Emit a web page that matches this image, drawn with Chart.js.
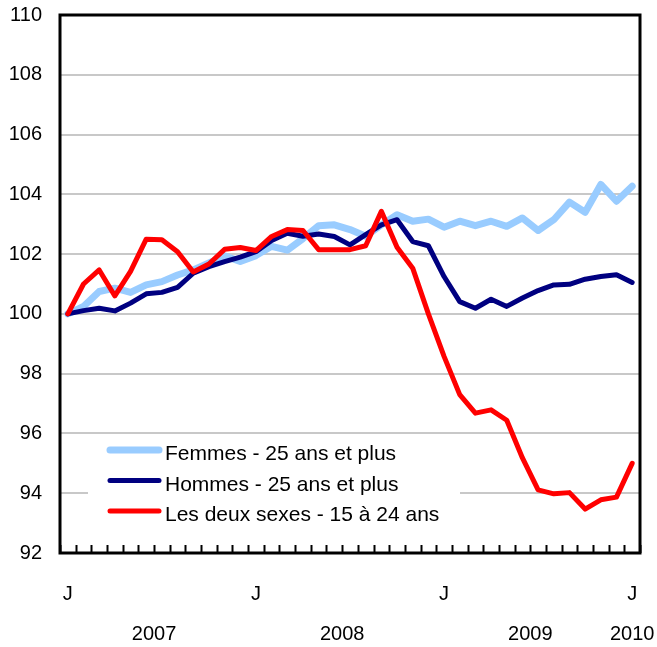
<!DOCTYPE html>
<html>
<head>
<meta charset="utf-8">
<script src="https://cdn.jsdelivr.net/npm/chart.js@4.4.1/dist/chart.umd.min.js"></script>
<style>
  body { margin: 0; background: #fff; }
  #wrap { width: 657px; height: 647px; position: relative; }
</style>
</head>
<body>
<div id="wrap"><canvas id="chart"></canvas></div>
<script>
// monthly index, January 2007 = 100
const years = [2007, 2008, 2009, 2010];
const xTickLabels = [
  'J','','','','','','','','','','','',
  'J','','','','','','','','','','','',
  'J','','','','','','','','','','','',
  'J'
];
const yearLabels = ['2007', '2008', '2009', '2010'];
const yearLabelAt = [5.5, 17.5, 29.5, 36]; // in category units
const yTicks = [92, 94, 96, 98, 100, 102, 104, 106, 108, 110];

const femmes = [
  100, 100.25, 100.75, 100.86, 100.72, 100.97, 101.08, 101.3, 101.47, 101.7, 101.94, 101.75,
  101.95, 102.26, 102.13, 102.52, 102.95, 102.98, 102.82, 102.6, 102.98, 103.32, 103.1, 103.17,
  102.9, 103.1, 102.95, 103.1, 102.93, 103.21, 102.79, 103.15, 103.74, 103.4, 104.33, 103.77,
  104.27
];
const hommes = [
  100, 100.11, 100.19, 100.1, 100.36, 100.67, 100.72, 100.89, 101.36, 101.58, 101.75, 101.9,
  102.08, 102.46, 102.7, 102.6, 102.67, 102.59, 102.31, 102.65, 102.98, 103.15, 102.42, 102.28,
  101.25, 100.41, 100.19, 100.49, 100.25, 100.53, 100.78, 100.97, 100.99, 101.16, 101.25, 101.31,
  101.05
];
const jeunes = [
  100, 101.0, 101.47, 100.6, 101.42, 102.5, 102.48, 102.08, 101.4, 101.67, 102.16, 102.22,
  102.12, 102.59, 102.82, 102.79, 102.15, 102.15, 102.15, 102.28, 103.43, 102.23, 101.53, 100.0,
  98.58, 97.3, 96.68, 96.79, 96.44, 95.18, 94.11, 93.98, 94.02, 93.47, 93.78, 93.87,
  95.0
];
const seriesNames = [
  'Femmes - 25 ans et plus',
  'Hommes - 25 ans et plus',
  'Les deux sexes - 15 \u00e0 24 ans'
];

const categories = [];
years.forEach(function (y) {
  for (let m = 1; m <= 12; m++) {
    if (categories.length < xTickLabels.length) categories.push(y + '-' + m);
  }
});

const FONT = '"Liberation Sans", Arial, Helvetica, sans-serif';

// box, inner ticks, year row and the legend drawn inside the plot
const decorations = {
  id: 'decorations',
  beforeDatasetsDraw(chart) {
    const ctx = chart.ctx;
    const a = chart.chartArea;
    // legend background hides the grid behind it
    ctx.save();
    ctx.fillStyle = '#fff';
    ctx.fillRect(a.left + 28, a.top + 422, 372, 93);
    ctx.restore();
  },
  afterDatasetsDraw(chart) {
    const ctx = chart.ctx;
    const a = chart.chartArea;
    const xs = chart.scales.x;
    const n = chart.data.labels.length;
    const step = (a.right - a.left) / n;

    ctx.save();
    // minor ticks at month boundaries, pointing up
    ctx.strokeStyle = '#000';
    ctx.lineWidth = 2;
    ctx.beginPath();
    for (let i = 0; i <= n; i++) {
      const x = Math.round(a.left + i * step) + 0.5;
      ctx.moveTo(x, a.bottom);
      ctx.lineTo(x, a.bottom - 8);
    }
    ctx.stroke();

    // frame
    ctx.lineWidth = 3;
    ctx.strokeRect(a.left, a.top, a.right - a.left, a.bottom - a.top);

    // year labels
    ctx.fillStyle = '#000';
    ctx.font = '20px ' + FONT;
    ctx.textAlign = 'center';
    ctx.textBaseline = 'alphabetic';
    yearLabels.forEach(function (lbl, i) {
      const pos = yearLabelAt[i];
      const base = Math.floor(pos);
      const x = xs.getPixelForValue(base) + (pos - base) * step;
      ctx.fillText(lbl, x, a.bottom + 87);
    });

    // legend
    ctx.textAlign = 'left';
    ctx.font = '21px ' + FONT;
    chart.data.datasets.forEach(function (ds, i) {
      const baseY = a.top + 445 + i * 30.5;
      ctx.strokeStyle = ds.borderColor;
      ctx.lineWidth = ds.borderWidth;
      ctx.lineCap = 'round';
      ctx.beginPath();
      ctx.moveTo(a.left + 50, baseY - 10);
      ctx.lineTo(a.left + 99, baseY - 10);
      ctx.stroke();
      ctx.fillText(ds.label, a.left + 105, baseY);
    });
    ctx.restore();
  }
};

new Chart(document.getElementById('chart'), {
  type: 'line',
  data: {
    labels: categories,
    datasets: [
      { label: seriesNames[0], data: femmes, borderColor: '#99ccff', borderWidth: 7, order: 3 },
      { label: seriesNames[1], data: hommes, borderColor: '#000080', borderWidth: 5, order: 2 },
      { label: seriesNames[2], data: jeunes, borderColor: '#ff0000', borderWidth: 5, order: 1 }
    ]
  },
  options: {
    responsive: true,
    maintainAspectRatio: false,
    animation: false,
    layout: { padding: { top: 15, right: 17, left: 0, bottom: 0 } },
    elements: {
      point: { radius: 0 },
      line: { tension: 0, borderJoinStyle: 'round', borderCapStyle: 'round' }
    },
    plugins: { legend: { display: false }, tooltip: { enabled: false } },
    scales: {
      x: {
        offset: true,
        grid: { display: false },
        border: { display: false },
        afterFit: function (scale) {
          scale.height = 94;
          scale.paddingLeft = 0;
          scale.paddingRight = 0;
        },
        ticks: {
          autoSkip: false,
          maxRotation: 0,
          padding: 21,
          color: '#000',
          font: { family: FONT, size: 20 },
          callback: function (v, i) { return xTickLabels[i]; }
        }
      },
      y: {
        min: 92,
        max: 110,
        afterFit: function (scale) {
          scale.width = 60;
          scale.paddingTop = 0;
          scale.paddingBottom = 0;
        },
        afterBuildTicks: function (scale) {
          scale.ticks = yTicks.map(function (v) { return { value: v }; });
        },
        grid: { color: '#c8c8c8', lineWidth: 2, drawTicks: false },
        border: { display: false },
        ticks: {
          padding: 18,
          color: '#000',
          font: { family: FONT, size: 20 }
        }
      }
    }
  },
  plugins: [decorations]
});
</script>
</body>
</html>
